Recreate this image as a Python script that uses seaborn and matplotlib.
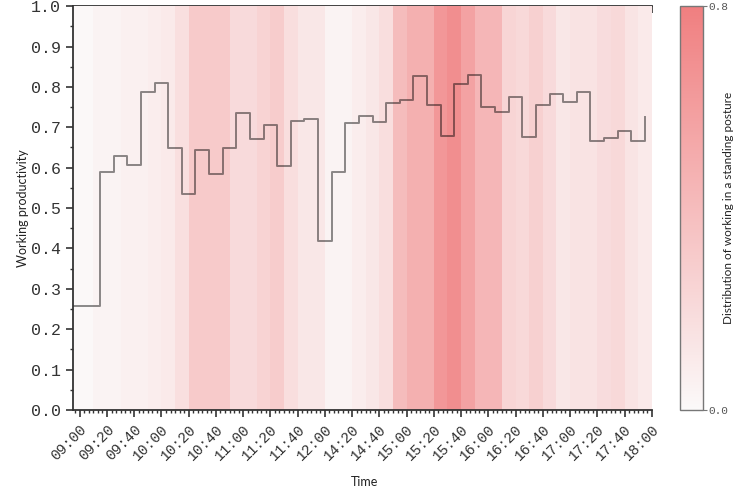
import matplotlib
matplotlib.use('Agg')
import matplotlib.pyplot as plt
from matplotlib.colors import LinearSegmentedColormap
from matplotlib.ticker import MultipleLocator
import numpy as np
import pandas as pd
import seaborn as sns

# x tick labels (every 20 min, lunch break squeezed between 12:00 and 14:20)
time_labels = ['09:00', '09:20', '09:40', '10:00', '10:20', '10:40', '11:00',
               '11:20', '11:40', '12:00', '14:20', '14:40', '15:00', '15:20',
               '15:40', '16:00', '16:20', '16:40', '17:00', '17:20', '17:40',
               '18:00']

# share of working in a standing posture, one value per 10-min slot
standing_share = [0.01, 0.01, 0.04, 0.04, 0.06, 0.06, 0.08, 0.10, 0.17, 0.31,
                  0.31, 0.31, 0.20, 0.20, 0.25, 0.30, 0.18, 0.12, 0.12, 0.04,
                  0.04, 0.08, 0.12, 0.18, 0.40, 0.48, 0.48, 0.64, 0.70, 0.57,
                  0.44, 0.44, 0.24, 0.21, 0.27, 0.20, 0.12, 0.15, 0.15, 0.19,
                  0.21, 0.14, 0.10]

# working productivity per 10-min slot (last value closes the step line)
productivity = [0.258, 0.258, 0.59, 0.63, 0.607, 0.787, 0.81, 0.648, 0.535,
                0.643, 0.585, 0.648, 0.735, 0.672, 0.705, 0.605, 0.715, 0.72,
                0.418, 0.59, 0.71, 0.728, 0.713, 0.76, 0.767, 0.828, 0.754,
                0.678, 0.808, 0.83, 0.75, 0.738, 0.776, 0.676, 0.754, 0.783,
                0.763, 0.787, 0.665, 0.673, 0.69, 0.667, 0.725]

slot_pos = np.arange(len(productivity)) + 0.5
label_pos = np.arange(1, 2 * len(time_labels), 2)

tick_font = 'Liberation Mono'
label_font = 'Lato'
dark = '#333333'

fig = plt.figure(figsize=(7.44, 4.98), dpi=100)
ax = fig.add_axes([0.098, 0.1767, 0.778, 0.811])
cax = fig.add_axes([0.914, 0.1767, 0.031, 0.811])

# heatmap background
cmap = LinearSegmentedColormap.from_list('standing', ['#fbf9f9', '#f07f80'])
heat = pd.DataFrame([standing_share])
sns.heatmap(heat, ax=ax, cmap=cmap, vmin=0, vmax=0.8, cbar_ax=cax,
            xticklabels=False, yticklabels=False)

# step line on top
sns.lineplot(x=slot_pos, y=productivity, ax=ax, drawstyle='steps-post',
             color='black', alpha=0.45, linewidth=1.4)

ax.set_xlim(0.5, 43)
ax.set_ylim(0, 1)

for s in ['left', 'bottom']:
    ax.spines[s].set_visible(True)
    ax.spines[s].set_color(dark)
    ax.spines[s].set_linewidth(1.3)

ax.set_xticks(label_pos)
ax.set_xticklabels(time_labels, rotation=45, ha='right', rotation_mode='anchor',
                   fontfamily=tick_font, fontsize=10.5, color=dark)
ax.xaxis.set_minor_locator(MultipleLocator(1 / 3))
ax.set_yticks(np.arange(0, 1.01, 0.1))
ax.set_yticklabels([f'{v:.1f}' for v in np.arange(0, 1.01, 0.1)],
                   fontfamily=tick_font, fontsize=12, color=dark)
ax.yaxis.set_minor_locator(MultipleLocator(0.05))
ax.tick_params(axis='both', which='major', direction='out', length=5,
               width=1.2, color=dark, left=True, bottom=True)
ax.tick_params(axis='both', which='minor', direction='out', length=2.5,
               width=1.0, color=dark, left=True, bottom=True)
ax.tick_params(axis='x', which='major', pad=4)

# top axis with inward ticks
top = ax.secondary_xaxis('top')
top.set_xticks(label_pos)
top.xaxis.set_minor_locator(MultipleLocator(1 / 3))
top.tick_params(which='major', direction='in', length=5, width=1.2,
                color=dark, labeltop=False)
top.tick_params(which='minor', direction='in', length=2.5, width=1.0,
                color=dark)
top.spines['top'].set_color(dark)
top.spines['top'].set_linewidth(1.3)

# lineplot hid the axis labels (heatmap had no tick labels), show them again
ax.set_xlabel('Time', fontfamily=label_font, fontsize=9, color='#222222',
              visible=True)
ax.set_ylabel('Working productivity', fontfamily=label_font, fontsize=9,
              color='#222222', visible=True)
ax.xaxis.set_label_coords(0.504, -0.163)
ax.yaxis.set_label_coords(-0.076, 0.5)

# colorbar
cbar = ax.collections[0].colorbar
cbar.set_ticks([0, 0.8])
cbar.set_ticklabels(['0.0', '0.8'])
cbar.ax.tick_params(length=3, width=0.8, color='#777777', labelsize=8,
                    labelcolor='#555555', pad=1)
for t in cbar.ax.get_yticklabels():
    t.set_fontfamily(tick_font)
cbar.outline.set_visible(True)
cbar.outline.set_edgecolor('#777777')
cbar.outline.set_linewidth(1.0)
cbar.set_label('Distribution of working in a standing posture',
               fontfamily=label_font, fontsize=8.5, color='#222222')
cbar.ax.yaxis.set_label_coords(1.85, 0.5)

fig.savefig('out.png', dpi=100, facecolor='white')
